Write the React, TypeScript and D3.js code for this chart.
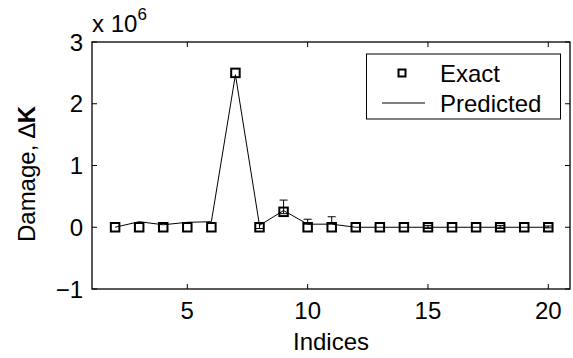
import React from "react";
import * as d3 from "d3";

const indices = [2, 3, 4, 5, 6, 7, 8, 9, 10, 11, 12, 13, 14, 15, 16, 17, 18, 19, 20];
const exact = [0, 0, 0, 0, 0, 2.5, 0, 0.25, 0, 0, 0, 0, 0, 0, 0, 0, 0, 0, 0];
const predicted = [0, 0.09, 0.04, 0.08, 0.09, 2.47, 0.03, 0.27, 0.05, 0.05, 0, 0, 0, 0, 0, 0, 0, 0, 0];
const errUpper = [0, 0, 0, 0, 0, 0, 0.06, 0.44, 0.13, 0.17, 0, 0, 0, 0.03, 0, 0, 0.03, 0, 0.02];
const errLower = [0, 0, 0, 0, 0, 0, -0.02, 0.22, 0.05, 0.06, 0, 0, 0, -0.02, 0, 0, -0.02, 0, -0.01];
const xTicks = [5, 10, 15, 20];
const yTicks = [-1, 0, 1, 2, 3];

const W = 573;
const H = 358;
const L = 92, R = 570, T = 42, B = 289;
const FONT = "'Liberation Sans', Arial, sans-serif";
const FS = 24;

export default function App() {
  const x = d3.scaleLinear().domain([5, 20]).range([187.3, 548.3]);
  const y = d3.scaleLinear().domain([-1, 3]).range([B, T]);
  const line = d3
    .line<number>()
    .x((_, i) => x(indices[i]))
    .y((d) => y(d));
  const tk = 5;
  const ms = 8.5;
  return (
    <div style={{ position: "absolute", left: 0, top: 0 }}>
      <svg width={W} height={H} style={{ display: "block", background: "#fff" }} fontFamily={FONT}>
        <rect x={0} y={0} width={W} height={H} fill="#fff" />
        {/* predicted line */}
        <path d={line(predicted) || ""} fill="none" stroke="#000" strokeWidth={1} />
        {/* error bars */}
        {indices.map((ix, i) =>
          errUpper[i] !== errLower[i] ? (
            <g key={"e" + i} stroke="#000" strokeWidth={1}>
              <line x1={x(ix)} x2={x(ix)} y1={y(errLower[i])} y2={y(errUpper[i])} />
              <line x1={x(ix) - 4} x2={x(ix) + 4} y1={y(errUpper[i])} y2={y(errUpper[i])} />
              <line x1={x(ix) - 4} x2={x(ix) + 4} y1={y(errLower[i])} y2={y(errLower[i])} />
            </g>
          ) : null
        )}
        {/* exact markers */}
        {indices.map((ix, i) => (
          <rect
            key={"m" + i}
            x={x(ix) - ms / 2}
            y={y(exact[i]) - ms / 2}
            width={ms}
            height={ms}
            fill="none"
            stroke="#000"
            strokeWidth={2}
          />
        ))}
        {/* axes box */}
        <rect x={L} y={T} width={R - L} height={B - T} fill="none" stroke="#000" strokeWidth={1.3} />
        {xTicks.map((t) => (
          <g key={"xt" + t}>
            <line x1={x(t)} x2={x(t)} y1={B} y2={B - tk} stroke="#000" strokeWidth={1} />
            <line x1={x(t)} x2={x(t)} y1={T} y2={T + tk} stroke="#000" strokeWidth={1} />
            <text x={x(t)} y={319} fontSize={FS} textAnchor="middle">
              {t}
            </text>
          </g>
        ))}
        {yTicks.map((t) => (
          <g key={"yt" + t}>
            <line x1={L} x2={L + tk} y1={y(t)} y2={y(t)} stroke="#000" strokeWidth={1} />
            <line x1={R} x2={R - tk} y1={y(t)} y2={y(t)} stroke="#000" strokeWidth={1} />
            <text x={83} y={y(t) + 8.5} fontSize={FS} textAnchor="end">
              {t < 0 ? "\u2212" + Math.abs(t) : t}
            </text>
          </g>
        ))}
        {/* exponent */}
        <text x={92} y={32} fontSize={FS}>
          x 10
          <tspan dy={-12} fontSize={17}>6</tspan>
        </text>
        {/* axis labels */}
        <text x={(L + R) / 2} y={350} fontSize={FS} textAnchor="middle">
          Indices
        </text>
        <text transform={`translate(35, 174) rotate(-90)`} fontSize={FS} textAnchor="middle">
          Damage, {"\u2206"}
          <tspan fontWeight="bold">K</tspan>
        </text>
        {/* legend */}
        <rect x={366.5} y={54} width={194} height={65} fill="#fff" stroke="#000" strokeWidth={1} />
        <rect x={402 - 3.5} y={73 - 3.5} width={7} height={7} fill="none" stroke="#000" strokeWidth={2} />
        <text x={440} y={82} fontSize={FS}>
          Exact
        </text>
        <line x1={382} x2={425} y1={103} y2={103} stroke="#000" strokeWidth={1} />
        <text x={440} y={112} fontSize={FS}>
          Predicted
        </text>
      </svg>
    </div>
  );
}
